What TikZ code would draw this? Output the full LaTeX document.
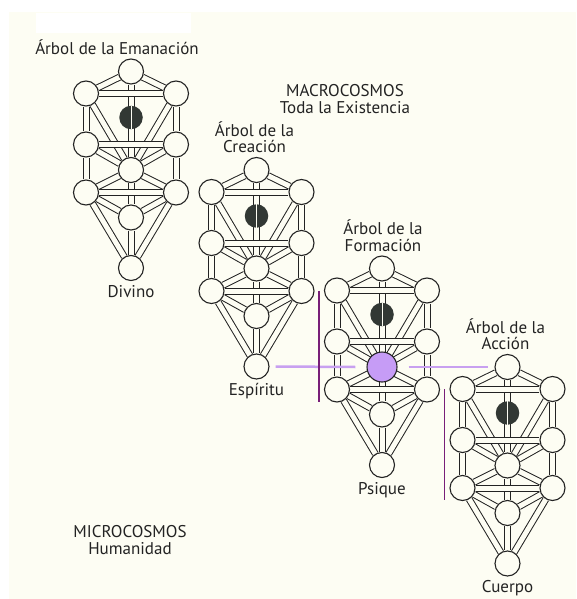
\documentclass[tikz,border=0pt]{standalone}
\usepackage{fontspec}
\setmainfont{PT Sans}
\usepackage{tikz}
\usetikzlibrary{positioning,backgrounds}
\definecolor{crema}{RGB}{253,253,243}
\definecolor{tinta}{RGB}{35,35,35}
\definecolor{daatgris}{RGB}{50,56,52}
\definecolor{lila}{RGB}{198,156,246}
\definecolor{lilaclaro}{RGB}{200,160,240}
\definecolor{morado}{RGB}{120,30,120}

\tikzset{
    sephira/.style={draw=tinta, circle, fill=crema, minimum size=25pt, inner sep=0pt, line width=1.1pt},
    daat/.style={circle, fill=daatgris, minimum size=23.5pt, inner sep=0pt},
    senda/.style={draw=tinta, double=crema, double distance=5pt, line width=1pt},
    rotulo/.style={text=tinta, font=\fontsize{17}{16.5}\selectfont, align=center, inner sep=1pt}
}

\begin{document}
\begin{tikzpicture}[x=1pt, y=-1pt]
    \useasboundingbox (0,0) rectangle (576,599);
    \begin{scope}[on background layer]
        \fill[white] (0,0) rectangle (576,599);
        \fill[crema] (9,12) rectangle (576,599);
        \fill[white] (36,13) rectangle (191,33);
    \end{scope}

    % los cuatro arboles
    \foreach \t/\x/\y/\dx/\titulo/\pie in {
        em/131/71.5/-14/{Árbol de la Emanación}/Divino,
        cr/256.5/170/-2/{Árbol de la\\Creación}/Espíritu,
        fo/382/268.5/1/{Árbol de la\\Formación}/Psique,
        ac/507.5/367/-2/{Árbol de la\\Acción}/Cuerpo} {
        \begin{scope}[shift={(\x,\y)}]
            \node[sephira] (\t-keter) at (0,0) {};
            \node[sephira] (\t-chokmah) at (45,22) {};
            \node[sephira] (\t-binah) at (-45,22) {};
            \node[daat] (\t-daat) at (0,46) {};
            \node[sephira] (\t-chesed) at (45,73) {};
            \node[sephira] (\t-geburah) at (-45,73) {};
            \node[sephira] (\t-tiferet) at (0,98.5) {};
            \node[sephira] (\t-netzach) at (45,121) {};
            \node[sephira] (\t-hod) at (-45,121) {};
            \node[sephira] (\t-yesod) at (0,146) {};
            \node[sephira] (\t-malkuth) at (0,196.5) {};
        \end{scope}
        \draw[crema, line width=1pt] (\t-daat.north) -- (\t-daat.south);

        \begin{scope}[on background layer]
            \foreach \a/\b in {keter/chokmah, keter/binah, keter/tiferet,
                chokmah/chesed, binah/geburah, chokmah/tiferet, binah/tiferet,
                chesed/tiferet, geburah/tiferet, chesed/netzach, geburah/hod,
                tiferet/netzach, tiferet/hod, tiferet/yesod, netzach/yesod, hod/yesod,
                yesod/malkuth, netzach/malkuth, hod/malkuth,
                chokmah/binah, chesed/geburah, netzach/hod}
                \draw[senda] (\t-\a) -- (\t-\b);
        \end{scope}

        \node[rotulo, above=3pt of \t-keter, xshift=\dx pt] (\t-titulo) {\titulo};
        \node[rotulo, below=3pt of \t-malkuth] (\t-pie) {\pie};
    }

    \node[sephira, fill=lila, minimum size=30pt] (fo-alma) at (fo-tiferet) {};

    \draw[lilaclaro, line width=2.5pt] ([xshift=6pt]cr-malkuth.east) -- ([xshift=-11pt]fo-alma.west);
    \draw[lilaclaro, line width=2.5pt] ([xshift=11pt]fo-alma.east) -- ([xshift=-6pt]ac-keter.west);
    \draw[morado, line width=1.2pt] ([xshift=-18pt]fo-binah.center) -- ([xshift=-18pt, yshift=-12pt]fo-hod.center);
    \draw[morado, line width=1.2pt] ([xshift=-18pt]ac-binah.center) -- ([xshift=-18pt, yshift=-12pt]ac-hod.center);

    \node[rotulo] (macro) at (345,99) {MACROCOSMOS\\Toda la Existencia};
    \node[rotulo] (micro) at (130,540) {MICROCOSMOS\\Humanidad};
\end{tikzpicture}
\end{document}
